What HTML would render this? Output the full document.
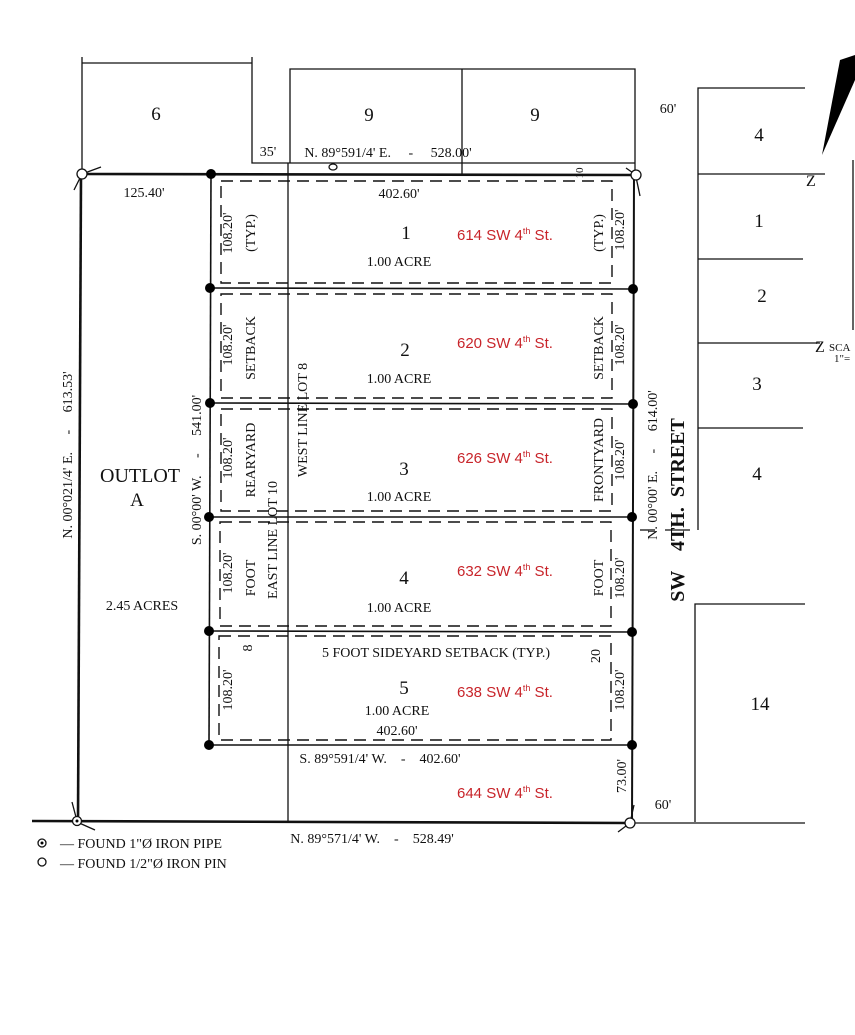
<!DOCTYPE html>
<html><head><meta charset="utf-8"><style>
html,body{margin:0;padding:0;background:#fff;}
svg{display:block;}
text{font-family:"Liberation Serif",serif;fill:#111;white-space:pre;}
.r{font-family:"Liberation Sans",sans-serif;fill:#c8242a;font-size:15px;}
</style></head><body>
<svg width="855" height="1035" viewBox="0 0 855 1035" xmlns="http://www.w3.org/2000/svg">
<g stroke="#111" fill="none" stroke-width="1.3">
<!-- lot 6 -->
<polyline points="82,174 82,57"/>
<line x1="82" y1="63" x2="252" y2="63"/>
<polyline points="252,57 252,163 635,163"/>
<!-- lot 9 -->
<polyline points="290,163 290,69 635,69 635,175"/>
<line x1="462" y1="69" x2="462" y2="174"/>
<!-- west line lot8 -->
<line x1="288" y1="163" x2="288" y2="822"/>
<!-- main boundary -->
<line x1="82" y1="174" x2="636" y2="175" stroke-width="2.6"/>
<polyline points="81,174 78,822" stroke-width="2.6"/>
<line x1="32" y1="821" x2="630" y2="823" stroke-width="2.6"/>
<line x1="630" y1="823" x2="805" y2="823"/>
<line x1="634" y1="175" x2="632" y2="823" stroke-width="2"/>
<!-- inner west line -->
<line x1="211" y1="174" x2="209" y2="745" stroke-width="1.6"/>
<!-- lot lines -->
<line x1="210" y1="288" x2="633" y2="289" stroke-width="1.6"/>
<line x1="210" y1="403" x2="633" y2="404" stroke-width="1.6"/>
<line x1="209" y1="517" x2="632" y2="517" stroke-width="1.6"/>
<line x1="209" y1="631" x2="632" y2="632" stroke-width="1.6"/>
<line x1="209" y1="745" x2="632" y2="745" stroke-width="1.6"/>
<!-- setback dashed -->
<g stroke-dasharray="12,7" stroke-width="1.4">
<rect x="221" y="181" width="391" height="102"/>
<rect x="221" y="294" width="391" height="104"/>
<rect x="221" y="409" width="391" height="102"/>
<rect x="220" y="522" width="391" height="104"/>
<rect x="219" y="636" width="392" height="104"/>
</g>
<!-- ticks at corners -->
<line x1="82" y1="174" x2="101" y2="167"/><line x1="81" y1="176" x2="74" y2="190"/>
<line x1="636" y1="175" x2="626" y2="168"/><line x1="636" y1="177" x2="640" y2="196"/>
<line x1="77" y1="821" x2="72" y2="802"/><line x1="77" y1="822" x2="95" y2="830"/>
<line x1="630" y1="823" x2="634" y2="805"/><line x1="630" y1="823" x2="618" y2="832"/>
<!-- right side blocks -->
<polyline points="805,88 698,88 698,530"/>
<line x1="698" y1="174" x2="825" y2="174"/>
<line x1="698" y1="259" x2="803" y2="259"/>
<line x1="698" y1="343" x2="820" y2="343"/>
<line x1="698" y1="428" x2="803" y2="428"/>
<polyline points="805,604 695,604 695,822"/>
<line x1="853" y1="160" x2="853" y2="330"/>
<line x1="640" y1="530" x2="655" y2="530"/><line x1="665" y1="530" x2="690" y2="530"/>
</g>
<!-- north arrow -->
<polygon points="822,155 840,60 855,55 855,80" fill="#000"/>
<!-- dots -->
<g fill="#000">
<circle cx="211" cy="174" r="5"/><circle cx="210" cy="288" r="5"/><circle cx="210" cy="403" r="5"/>
<circle cx="209" cy="517" r="5"/><circle cx="209" cy="631" r="5"/><circle cx="209" cy="745" r="5"/>
<circle cx="633" cy="289" r="5"/><circle cx="633" cy="404" r="5"/><circle cx="632" cy="517" r="5"/>
<circle cx="632" cy="632" r="5"/><circle cx="632" cy="745" r="5"/>
</g>
<g fill="#fff" stroke="#111" stroke-width="1.3">
<circle cx="82" cy="174" r="5"/><circle cx="636" cy="175" r="5"/><circle cx="630" cy="823" r="5"/>
<circle cx="77" cy="821" r="4.5"/><ellipse cx="333" cy="167" rx="4" ry="3"/>
<circle cx="42" cy="843" r="4"/><circle cx="42" cy="862" r="4"/>
</g>
<circle cx="77" cy="821" r="1.5" fill="#000"/><circle cx="42" cy="843" r="1.5" fill="#000"/>
<g font-size="19" text-anchor="middle">
<text x="156" y="120">6</text><text x="369" y="121">9</text><text x="535" y="121">9</text>
<text x="759" y="141">4</text><text x="759" y="227">1</text><text x="762" y="302">2</text>
<text x="757" y="390">3</text><text x="757" y="480">4</text><text x="760" y="710">14</text>
<text x="406" y="239">1</text><text x="405" y="356">2</text><text x="404" y="475">3</text>
<text x="404" y="584">4</text><text x="404" y="694">5</text>
<text x="140" y="482" font-size="20">OUTLOT</text><text x="137" y="506">A</text>
</g>
<g font-size="14" text-anchor="middle">
<text x="399" y="266">1.00 ACRE</text><text x="399" y="383">1.00 ACRE</text>
<text x="399" y="501">1.00 ACRE</text><text x="399" y="612">1.00 ACRE</text>
<text x="397" y="715">1.00 ACRE</text><text x="397" y="735">402.60'</text>
<text x="399" y="198">402.60'</text><text x="144" y="197">125.40'</text>
<text x="142" y="610">2.45 ACRES</text>
<text x="436" y="657">5 FOOT SIDEYARD SETBACK (TYP.)</text>
<text x="380" y="763">S. 89°591/4' W.    -    402.60'</text>
<text x="372" y="843">N. 89°571/4' W.    -    528.49'</text>
<text x="268" y="156">35'</text>
<text x="388" y="157">N. 89°591/4' E.     -     528.00'</text>
<text x="668" y="113">60'</text><text x="663" y="809">60'</text>
</g>
<g font-size="14">
<text x="60" y="848">— FOUND 1"Ø IRON PIPE</text>
<text x="60" y="868">— FOUND 1/2"Ø IRON PIN</text>
</g>
<g class="r">
<text class="r" x="457" y="240">614 SW 4<tspan font-size="9" dy="-6">th</tspan><tspan dy="6"> St.</tspan></text>
<text class="r" x="457" y="348">620 SW 4<tspan font-size="9" dy="-6">th</tspan><tspan dy="6"> St.</tspan></text>
<text class="r" x="457" y="463">626 SW 4<tspan font-size="9" dy="-6">th</tspan><tspan dy="6"> St.</tspan></text>
<text class="r" x="457" y="576">632 SW 4<tspan font-size="9" dy="-6">th</tspan><tspan dy="6"> St.</tspan></text>
<text class="r" x="457" y="697">638 SW 4<tspan font-size="9" dy="-6">th</tspan><tspan dy="6"> St.</tspan></text>
<text class="r" x="457" y="798">644 SW 4<tspan font-size="9" dy="-6">th</tspan><tspan dy="6"> St.</tspan></text>
</g>
<g font-size="14" text-anchor="middle">
<text transform="translate(72,455) rotate(-90)">N. 00°021/4' E.     -     613.53'</text>
<text transform="translate(201,470) rotate(-90)">S. 00°00' W.     -     541.00'</text>
<text transform="translate(657,465) rotate(-90)">N. 00°00' E.     -     614.00'</text>
<text transform="translate(307,420) rotate(-90)">WEST LINE LOT 8</text>
<text transform="translate(277,540) rotate(-90)">EAST LINE LOT 10</text>
<text transform="translate(232,233) rotate(-90)">108.20'</text>
<text transform="translate(232,345) rotate(-90)">108.20'</text>
<text transform="translate(232,458) rotate(-90)">108.20'</text>
<text transform="translate(232,573) rotate(-90)">108.20'</text>
<text transform="translate(232,690) rotate(-90)">108.20'</text>
<text transform="translate(624,230) rotate(-90)">108.20'</text>
<text transform="translate(624,345) rotate(-90)">108.20'</text>
<text transform="translate(624,460) rotate(-90)">108.20'</text>
<text transform="translate(624,578) rotate(-90)">108.20'</text>
<text transform="translate(624,690) rotate(-90)">108.20'</text>
<text transform="translate(626,776) rotate(-90)">73.00'</text>
<text transform="translate(255,233) rotate(-90)">(TYP.)</text>
<text transform="translate(255,348) rotate(-90)">SETBACK</text>
<text transform="translate(255,460) rotate(-90)">REARYARD</text>
<text transform="translate(255,578) rotate(-90)">FOOT</text>
<text transform="translate(252,648) rotate(-90)">8</text>
<text transform="translate(603,233) rotate(-90)">(TYP.)</text>
<text transform="translate(603,348) rotate(-90)">SETBACK</text>
<text transform="translate(603,460) rotate(-90)">FRONTYARD</text>
<text transform="translate(603,578) rotate(-90)">FOOT</text>
<text transform="translate(600,656) rotate(-90)">20</text>
<text transform="translate(583,173) rotate(-90)" font-size="11">10</text>
<text transform="translate(684,510) rotate(-90)" font-size="20" font-weight="bold">SW    4TH.  STREET</text>
</g>
<text x="806" y="186" font-size="16">Z</text>
<text x="815" y="352" font-size="16">Z</text>
<text x="829" y="351" font-size="11">SCA</text>
<text x="834" y="362" font-size="11">1"=</text>
</svg>
</body></html>
